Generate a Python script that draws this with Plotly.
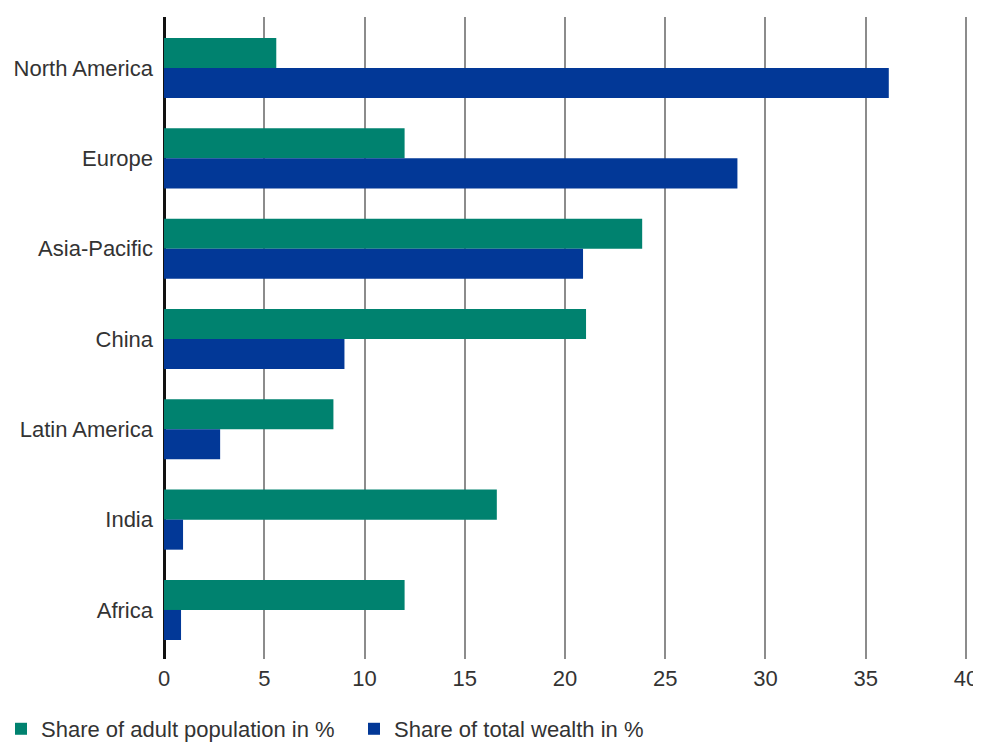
import plotly.graph_objects as go

regions = ["North America", "Europe", "Asia-Pacific", "China", "Latin America", "India", "Africa"]
adult_population = [5.6, 12.0, 23.85, 21.05, 8.45, 16.6, 12.0]
total_wealth = [36.15, 28.6, 20.9, 9.0, 2.8, 0.95, 0.85]
x_ticks = [0, 5, 10, 15, 20, 25, 30, 35, 40]

GREEN = "#00826f"
BLUE = "#023897"

fig = go.Figure()
fig.add_trace(go.Bar(
    y=regions, x=adult_population, orientation="h",
    name="Share of adult population in %", marker=dict(color=GREEN, line=dict(width=0)),
    offsetgroup="a",
))
fig.add_trace(go.Bar(
    y=regions, x=total_wealth, orientation="h",
    name="Share of total wealth in %", marker=dict(color=BLUE, line=dict(width=0)),
    offsetgroup="b",
))

fig.update_layout(
    width=973, height=736,
    margin=dict(l=156, r=9, t=9, b=85, autoexpand=False),
    paper_bgcolor="white", plot_bgcolor="white",
    barmode="group", bargap=0.335, bargroupgap=0,
    font=dict(family="Liberation Sans, Arial, sans-serif", color="#333333", size=22),
    showlegend=True,
    legend=dict(
        orientation="h", x=-0.2017, xanchor="left", y=-0.109, yanchor="middle",
        font=dict(size=22, color="#333333"), traceorder="normal",
        itemwidth=30, entrywidth=308, bgcolor="rgba(0,0,0,0)",
    ),
    xaxis=dict(
        range=[0, 40.3], tickvals=x_ticks, ticktext=[str(v) for v in x_ticks],
        showgrid=True, gridcolor="#8c8c8c", gridwidth=2,
        zeroline=True, zerolinecolor="#111111", zerolinewidth=3,
        showline=False, ticks="outside", ticklen=0, tickfont=dict(size=22),
        automargin=False,
    ),
    yaxis=dict(
        categoryorder="array", categoryarray=regions,
        range=[6.543, -0.565], showgrid=False, zeroline=False,
        showline=False, ticks="", tickfont=dict(size=22), ticklabelstandoff=10,
        automargin=False,
    ),
)

fig.write_html("out.html", post_script="document.body.style.overflow='hidden';")
